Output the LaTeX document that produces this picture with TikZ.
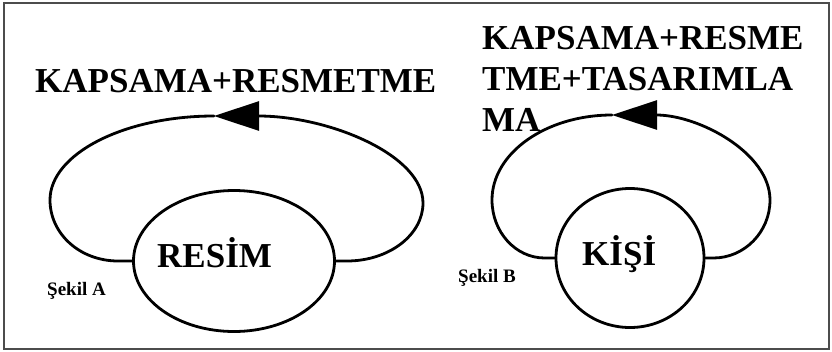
\documentclass[tikz,border=0pt]{standalone}
\usepackage{fontspec}
\setmainfont{Liberation Serif}
\usetikzlibrary{calc,arrows.meta,shapes.geometric}

\begin{document}
\begin{tikzpicture}[
        %We set the units (y runs downwards) and define some styles
        x=1pt, y=-1pt,
        frame line/.style={line width=1.2pt, draw=black!70},
        loop line/.style={line width=2.8pt, line cap=round},
        loop tip/.style={-{Triangle[length=45pt,width=29pt]}},
        blob/.style={draw, ellipse, line width=2.8pt, inner sep=0pt},
        big label/.style={font=\fontsize{35}{41}\selectfont\bfseries, inner sep=0pt, align=left},
        small label/.style={font=\fontsize{19}{22}\selectfont\bfseries, inner sep=0pt},
    ]
    \useasboundingbox (0,0) rectangle (832,351);
    \draw[frame line] (4,3) rectangle (829,349);

    % Sekil A
    \node[blob, minimum width=201pt, minimum height=141pt] (resim) at (234,261) {};
    \node[big label, anchor=base west] (resimtext) at (157,267) {RESİM};
    \node[big label, anchor=base west] (titleA) at (35,92) {KAPSAMA+RESMETME};
    \node[small label, anchor=base west] (sekilA) at (47,295) {Şekil A};

    % important coordinates of the loop are defined
    \coordinate (aRend) at ($(resim.east)+(11,0)$);
    \coordinate (aRight) at (423,203);
    \coordinate (aTip) at (214,116);
    \coordinate (aLeft) at (50,200);
    \coordinate (aLend) at ($(resim.west)+(-14,0)$);

    % the loop is drawn in two pieces, the first one ends in the tip
    \draw[loop line, loop tip] (resim.east) -- (aRend)
        .. controls +(42,0) and +(0,32) .. (aRight)
        .. controls +(0,-48) and +(115,0) .. (aTip);
    \draw[loop line] (aTip)
        .. controls +(-90,0) and +(0,-46) .. (aLeft)
        .. controls +(0,34) and +(-38,0) .. (aLend) -- (resim.west);

    % Sekil B
    \node[blob, minimum width=148pt, minimum height=139pt] (kisi) at (630,258) {};
    \node[big label, anchor=base west] (kisitext) at (582,265) {KİŞİ};
    \node[big label, anchor=north west] (titleB) at (482,26)
        {KAPSAMA+RESME\\TME+TASARIMLA\\MA};
    \node[small label, anchor=base west] (sekilB) at (458,282) {Şekil B};

    \coordinate (bRend) at ($(kisi.east)+(8,0)$);
    \coordinate (bRight) at (770,200);
    \coordinate (bTip) at (612,115);
    \coordinate (bLeft) at (492,200);
    \coordinate (bLend) at ($(kisi.west)+(-10,0)$);

    \draw[loop line, loop tip] (kisi.east) -- (bRend)
        .. controls +(31,0) and +(0,32) .. (bRight)
        .. controls +(0,-47) and +(87,0) .. (bTip);
    \draw[loop line] (bTip)
        .. controls +(-66,0) and +(0,-47) .. (bLeft)
        .. controls +(0,32) and +(-29,0) .. (bLend) -- (kisi.west);
\end{tikzpicture}
\end{document}
